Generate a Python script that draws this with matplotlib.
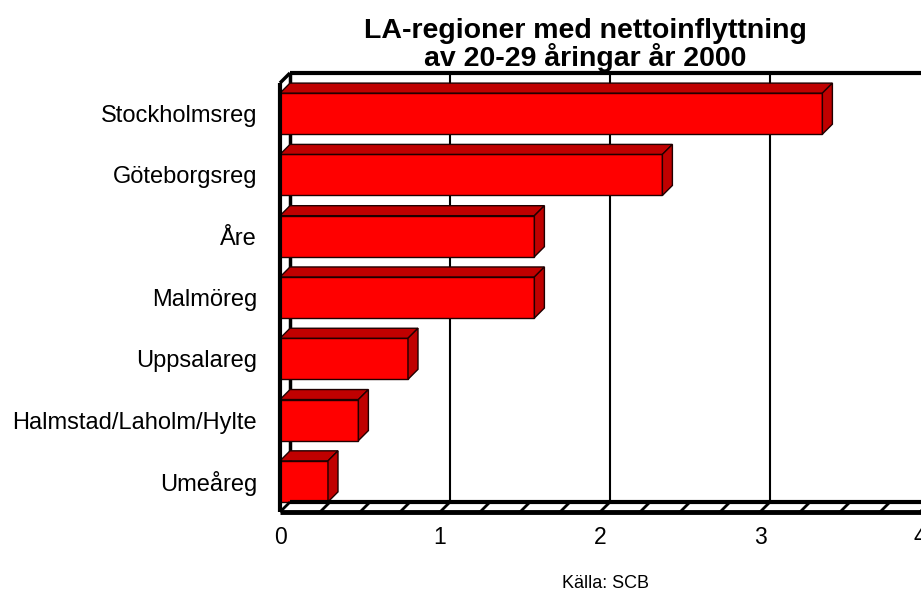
import matplotlib.pyplot as plt
from matplotlib.patches import Polygon
import numpy as np

plt.rcParams['font.family'] = ['Liberation Sans', 'DejaVu Sans']

# data, top to bottom as in the chart
regions = ['Stockholmsreg', 'Göteborgsreg', 'Åre', 'Malmöreg', 'Uppsalareg',
           'Halmstad/Laholm/Hylte', 'Umeåreg']
values = [3.39, 2.39, 1.59, 1.59, 0.80, 0.49, 0.30]
xticks = [0, 1, 2, 3, 4]

W, H = 921, 592
fig = plt.figure(figsize=(W / 100, H / 100), dpi=100)
# front plane of the 3d box in pixels
x0, x1 = 280, 920
y0, y1 = 83, 512
ax = fig.add_axes([x0 / W, 1 - y1 / H, (x1 - x0) / W, (y1 - y0) / H])
ax.set_xlim(0, 4)
ax.set_ylim(-0.5, len(regions) - 0.5)
for s in ax.spines.values():
    s.set_visible(False)

# depth offset (10 px right, 10 px up) in data units
dx = 10 / ((x1 - x0) / 4)
dy = 10 / ((y1 - y0) / len(regions))
ybot, ytop = -0.5, len(regions) - 0.5

kw = dict(color='black', clip_on=False, solid_capstyle='butt')
# back wall grid lines
for t in xticks[1:]:
    ax.plot([t + dx, t + dx], [ybot + dy, ytop + dy], lw=1.5, zorder=1, **kw)
# back wall top and left edges
ax.plot([dx, 4 + dx + 1], [ytop + dy, ytop + dy], lw=3, zorder=1, **kw)
ax.plot([dx, dx], [ybot + dy, ytop + dy], lw=2.5, zorder=1, **kw)
# left wall front edge + top diagonal
ax.plot([0, 0], [ybot, ytop], lw=3, zorder=5, **kw)
ax.plot([0, dx], [ytop, ytop + dy], lw=2.5, zorder=5, **kw)
# floor
ax.plot([0, 4 + 1], [ybot, ybot], lw=3.5, zorder=5, **kw)
ax.plot([dx, 4 + dx + 1], [ybot + dy, ybot + dy], lw=3, zorder=5, **kw)
for t in np.arange(0, 4.01, 0.25):
    ax.plot([t, t + dx], [ybot, ybot + dy], lw=2, zorder=5, **kw)

# bars with 3d top and side faces
ypos = np.arange(len(regions))[::-1]
bh = 0.67
front = '#ff0000'
dark = '#c00000'
ax.barh(ypos, values, height=bh, color=front, edgecolor='#200000',
        linewidth=1, zorder=3)
for y, v in zip(ypos, values):
    top = [(0, y + bh / 2), (v, y + bh / 2), (v + dx, y + bh / 2 + dy),
           (dx, y + bh / 2 + dy)]
    side = [(v, y - bh / 2), (v + dx, y - bh / 2 + dy),
            (v + dx, y + bh / 2 + dy), (v, y + bh / 2)]
    for pts in (top, side):
        ax.add_patch(Polygon(pts, closed=True, facecolor=dark,
                             edgecolor='#200000', lw=1, zorder=3,
                             clip_on=False))

ax.set_yticks(ypos)
ax.set_yticklabels(regions, fontsize=17)
ax.set_xticks(xticks)
ax.set_xticklabels([str(t) for t in xticks], fontsize=16.5)
ax.tick_params(axis='y', length=0, pad=16.5)
ax.tick_params(axis='x', length=0, pad=10)

fig.text(585 / W, 1 - 45 / H, 'LA-regioner med nettoinflyttning\nav 20-29 åringar år 2000',
         ha='center', va='center', fontsize=20.5, fontweight='bold',
         linespacing=0.95)
fig.text(605 / W, 1 - 583 / H, 'Källa: SCB', ha='center', va='center',
         fontsize=13)

fig.savefig('out.png', dpi=100)
